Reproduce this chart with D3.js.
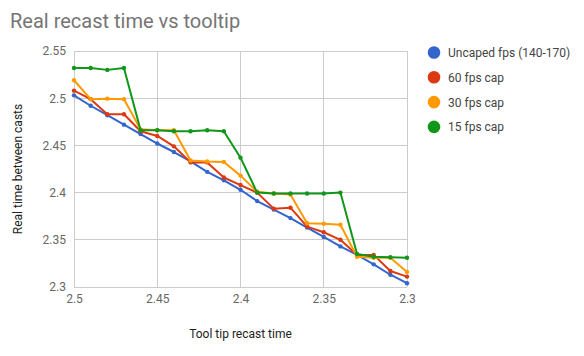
<!DOCTYPE html>
<html><head><meta charset="utf-8">
<script src="https://cdn.jsdelivr.net/npm/d3@7"></script>
<style>body{margin:0;background:#fff;} svg{display:block;font-family:Roboto, "Noto Sans", sans-serif;}</style>
</head><body>
<svg id="chart" width="584" height="356"></svg>
<script>
const xValues = [2.50,2.49,2.48,2.47,2.46,2.45,2.44,2.43,2.42,2.41,2.40,2.39,2.38,2.37,2.36,2.35,2.34,2.33,2.32,2.31,2.30];
const uncapped = [2.503,2.492,2.482,2.472,2.462,2.452,2.443,2.433,2.422,2.413,2.403,2.391,2.382,2.373,2.363,2.353,2.343,2.334,2.324,2.313,2.304];
const cap60 = [2.508,2.499,2.483,2.483,2.465,2.460,2.449,2.432,2.432,2.416,2.408,2.400,2.383,2.384,2.364,2.358,2.350,2.334,2.334,2.317,2.311];
const cap30 = [2.519,2.499,2.4995,2.499,2.467,2.466,2.466,2.434,2.433,2.4325,2.418,2.401,2.399,2.398,2.3675,2.367,2.366,2.332,2.331,2.331,2.316];
const cap15 = [2.532,2.532,2.530,2.532,2.466,2.466,2.465,2.465,2.466,2.465,2.437,2.400,2.399,2.399,2.399,2.399,2.400,2.335,2.332,2.3315,2.331];
const seriesNames = ["Uncaped fps (140-170)","60 fps cap","30 fps cap","15 fps cap"];
const seriesColors = ["#3366cc","#dc3912","#ff9900","#109618"];
const xTicks = [2.5,2.45,2.4,2.35,2.3];
const yTicks = [2.3,2.35,2.4,2.45,2.5,2.55];
const titleText = "Real recast time vs tooltip";
const xTitle = "Tool tip recast time";
const yTitle = "Real time between casts";

const svg = d3.select("#chart");
const x = d3.scaleLinear().domain([2.5,2.3]).range([74,407]);
const y = d3.scaleLinear().domain([2.3,2.55]).range([287,51]);

// gridlines
const grid = svg.append("g");
grid.selectAll("line.h").data(yTicks).join("line")
  .attr("x1",74).attr("x2",407).attr("y1",d=>y(d)).attr("y2",d=>y(d))
  .attr("stroke","#cccccc").attr("stroke-width",1).attr("shape-rendering","crispEdges");
grid.selectAll("line.v").data(xTicks).join("line").attr("class","v")
  .attr("x1",d=>x(d)).attr("x2",d=>x(d)).attr("y1",51).attr("y2",287)
  .attr("stroke","#cccccc").attr("stroke-width",1).attr("shape-rendering","crispEdges");

// axes (labels)
const xAxis = d3.axisBottom(x).tickValues(xTicks).tickSize(0).tickPadding(7).tickFormat(d3.format("~g"));
const gx = svg.append("g").attr("transform","translate(0,287)").call(xAxis);
gx.select(".domain").remove();
gx.selectAll("text").attr("fill","#666").style("font-size","12px").attr("font-family","Roboto");
const yAxis = d3.axisLeft(y).tickValues(yTicks).tickSize(0).tickPadding(8).tickFormat(d3.format("~g"));
const gy = svg.append("g").attr("transform","translate(74,0)").call(yAxis);
gy.select(".domain").remove();
gy.selectAll("text").attr("fill","#666").style("font-size","12px").attr("font-family","Roboto");

// lines
const allSeries = [uncapped, cap60, cap30, cap15];
const line = d3.line().x((d,i)=>x(xValues[i])).y(d=>y(d));
allSeries.forEach((vals,k)=>{
  svg.append("path").datum(vals).attr("d",line).attr("fill","none")
    .attr("stroke",seriesColors[k]).attr("stroke-width",2).attr("stroke-linejoin","round");
  svg.append("g").selectAll("circle").data(vals).join("circle")
    .attr("cx",(d,i)=>x(xValues[i])).attr("cy",d=>y(d)).attr("r",2.2).attr("fill",seriesColors[k]);
});

// title
svg.append("text").attr("x",10).attr("y",28).attr("fill","#757575")
  .style("font-size","20px").text(titleText);
// axis titles
svg.append("text").attr("x",240.5).attr("y",338).attr("text-anchor","middle")
  .attr("fill","#222").style("font-size","12px").text(xTitle);
svg.append("text").attr("transform","translate(22,169) rotate(-90)").attr("text-anchor","middle")
  .attr("fill","#222").style("font-size","12px").text(yTitle);

// legend
const lg = svg.append("g");
seriesNames.forEach((n,k)=>{
  const cy = 52.5 + k*24.8;
  lg.append("circle").attr("cx",434).attr("cy",cy).attr("r",6.3).attr("fill",seriesColors[k]);
  lg.append("text").attr("x",448).attr("y",cy+4.5).attr("fill","#444").style("font-size","12px").text(n);
});
</script>
</body></html>
